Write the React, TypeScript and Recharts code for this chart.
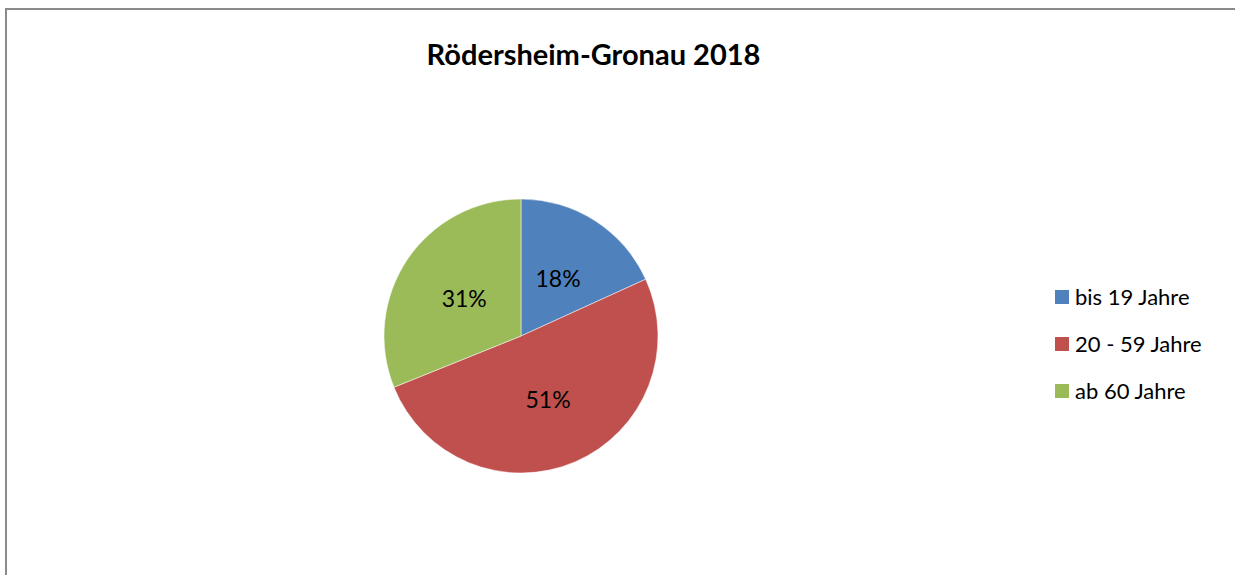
import { PieChart, Pie, Cell } from "recharts";

const ageGroups = ["bis 19 Jahre", "20 - 59 Jahre", "ab 60 Jahre"];
const shares = [18.2, 50.7, 31.1];
const sliceColors = ["#4F81BD", "#C0504D", "#9BBB59"];

const chartTitle = "Rödersheim-Gronau 2018";
const FONT = "Lato, 'Open Sans', sans-serif";

const data = ageGroups.map((name, i) => ({ name, value: shares[i] }));
const total = shares.reduce((a, b) => a + b, 0);

const RADIAN = Math.PI / 180;

function renderLabel(props: any) {
  const { cx, cy, midAngle, outerRadius, value } = props;
  const r = outerRadius * 0.5;
  const x = cx + r * Math.cos(-midAngle * RADIAN);
  const y = cy + r * Math.sin(-midAngle * RADIAN);
  return (
    <text
      x={x}
      y={y}
      fill="#000"
      textAnchor="middle"
      dominantBaseline="central"
      fontFamily={FONT}
      fontSize={23}
    >
      {Math.round((value / total) * 100)}%
    </text>
  );
}

export default function App() {
  return (
    <div
      style={{
        position: "absolute",
        left: 0,
        top: 0,
        width: 1235,
        height: 575,
        background: "#fff",
        overflow: "hidden",
      }}
    >
      <div
        style={{
          position: "absolute",
          left: 5,
          top: 8,
          width: 1240,
          height: 580,
          borderLeft: "2px solid #8a8a8a",
          borderTop: "2px solid #8a8a8a",
        }}
      />
      <div
        style={{
          position: "absolute",
          left: 0,
          top: 36,
          width: 1187,
          textAlign: "center",
          fontFamily: FONT,
          fontWeight: 700,
          fontSize: 29,
          color: "#000",
        }}
      >
        {chartTitle}
      </div>
      <PieChart
        width={1235}
        height={575}
        margin={{ top: 0, right: 0, bottom: 0, left: 0 }}
        style={{ position: "absolute", left: 0, top: 0 }}
      >
        <Pie
          data={data}
          dataKey="value"
          nameKey="name"
          cx={521}
          cy={336}
          outerRadius={137}
          startAngle={90}
          endAngle={-270}
          stroke="#fff"
          strokeWidth={0.5}
          label={renderLabel}
          labelLine={false}
          isAnimationActive={false}
        >
          {data.map((d, i) => (
            <Cell key={d.name} fill={sliceColors[i]} />
          ))}
        </Pie>
      </PieChart>
      <div
        style={{
          position: "absolute",
          left: 1055,
          top: 273,
          fontFamily: FONT,
          fontSize: 22,
          color: "#000",
        }}
      >
        {ageGroups.map((g, i) => (
          <div key={g} style={{ display: "flex", alignItems: "center", height: 47 }}>
            <span
              style={{
                display: "inline-block",
                width: 14,
                height: 14,
                background: sliceColors[i],
                marginRight: 6,
              }}
            />
            <span>{g}</span>
          </div>
        ))}
      </div>
    </div>
  );
}
